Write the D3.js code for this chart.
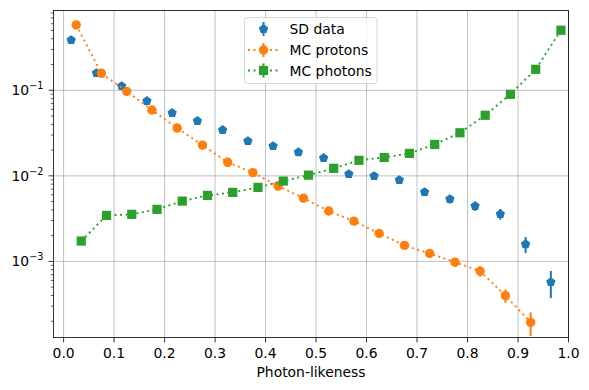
<!DOCTYPE html>
<html>
<head>
<meta charset="utf-8">
<script src="https://cdn.jsdelivr.net/npm/d3@7"></script>
<style>
  html, body { margin: 0; padding: 0; background: #fff; }
  svg { display: block; }
  text { font-family: "DejaVu Sans", sans-serif; fill: #000; }
</style>
</head>
<body>
<svg id="chart" width="589" height="390"></svg>
<script>
// ---------------- data ----------------
const sdX = [0.015,0.065,0.115,0.165,0.215,0.265,0.315,0.365,0.415,0.465,0.515,0.565,0.615,0.665,0.715,0.765,0.815,0.865,0.915,0.965];
const sdY = [0.387,0.159,0.112,0.075,0.0543,0.0438,0.0344,0.0255,0.0223,0.0189,0.0162,0.0105,0.00995,0.00893,0.00647,0.00536,0.00444,0.00358,0.00159,0.000573];
const sdErr = [0.00526,0.00337,0.00283,0.00231,0.00197,0.00177,0.00157,0.00135,0.00126,0.00116,0.00108,0.00087,0.00084,0.0008,0.00068,0.00062,0.00056,0.00051,0.00034,0.0002];

const prX = [0.025,0.075,0.125,0.175,0.225,0.275,0.325,0.375,0.425,0.475,0.525,0.575,0.625,0.675,0.725,0.775,0.825,0.875,0.925];
const prY = [0.581,0.158,0.0973,0.0589,0.0362,0.0229,0.0144,0.0109,0.0076,0.0055,0.00388,0.00296,0.00212,0.00154,0.00124,0.00098,0.00077,0.000398,0.000194];
const prErr = [0.003,0.0015,0.0012,0.0009,0.0007,0.0006,0.0005,0.0004,0.00034,0.00029,0.00024,0.00021,0.00018,0.00015,0.00014,0.00012,0.00011,0.00007,0.00006];

const phX = [0.035,0.085,0.135,0.185,0.235,0.285,0.335,0.385,0.435,0.485,0.535,0.585,0.635,0.685,0.735,0.785,0.835,0.885,0.935,0.985];
const phY = [0.00173,0.00345,0.00355,0.00406,0.00507,0.00591,0.00641,0.00733,0.00869,0.0102,0.01225,0.0152,0.0164,0.0183,0.0233,0.0319,0.0511,0.0898,0.176,0.504];
const phErr = [0.0001,0.00015,0.00015,0.00016,0.00018,0.0002,0.0002,0.00022,0.00024,0.00026,0.00028,0.00032,0.00033,0.00035,0.0004,0.00046,0.0006,0.0008,0.0011,0.0019];

const xTicks = [0,0.1,0.2,0.3,0.4,0.5,0.6,0.7,0.8,0.9,1.0];
const yMajor = [1e-3,1e-2,1e-1];
const yMajorExp = ["−3","−2","−1"];
const seriesNames = ["SD data","MC protons","MC photons"];
const colors = ["#1f77b4","#ff7f0e","#2ca02c"];
const xLabel = "Photon-likeness";

// ---------------- layout ----------------
const L = 53.5, R = 568.5, T = 10.5, B = 337.5;
const svg = d3.select("#chart");
const x = d3.scaleLinear().domain([-0.02, 1.0]).range([L, R]);
const y = d3.scaleLog().domain([1.29e-4, 0.857]).range([B, T]);

// grid
const grid = svg.append("g").attr("stroke", "#b0b0b0").attr("stroke-width", 0.8);
xTicks.forEach(t => grid.append("line").attr("x1", x(t)).attr("x2", x(t)).attr("y1", T).attr("y2", B));
yMajor.forEach(t => grid.append("line").attr("x1", L).attr("x2", R).attr("y1", y(t)).attr("y2", y(t)));

// data
const plot = svg.append("g");
const series = [
  {xs: sdX, ys: sdY, es: sdErr, c: colors[0], line: false, m: "pent"},
  {xs: prX, ys: prY, es: prErr, c: colors[1], line: true, m: "circle"},
  {xs: phX, ys: phY, es: phErr, c: colors[2], line: true, m: "square"}
];
function marker(g, type, cx, cy, c) {
  if (type === "circle") {
    g.append("circle").attr("cx", cx).attr("cy", cy).attr("r", 4.7).attr("fill", c);
  } else if (type === "square") {
    g.append("rect").attr("x", cx - 4.6).attr("y", cy - 4.6).attr("width", 9.2).attr("height", 9.2).attr("fill", c);
  } else {
    const r = 4.9;
    const pts = d3.range(5).map(i => {
      const a = -Math.PI / 2 + i * 2 * Math.PI / 5;
      return [cx + r * Math.cos(a), cy + r * Math.sin(a)];
    });
    g.append("polygon").attr("points", pts.map(p => p.join(",")).join(" ")).attr("fill", c);
  }
}
series.forEach(s => {
  const g = plot.append("g");
  if (s.line) {
    const line = d3.line().x((d, i) => x(s.xs[i])).y(d => y(d));
    g.append("path").attr("d", line(s.ys)).attr("fill", "none").attr("stroke", s.c)
      .attr("stroke-width", 1.9).attr("stroke-dasharray", "2,3.5");
  }
  s.ys.forEach((v, i) => {
    const lo = Math.max(v - s.es[i], 1e-6);
    g.append("line").attr("x1", x(s.xs[i])).attr("x2", x(s.xs[i]))
      .attr("y1", y(v + s.es[i])).attr("y2", Math.min(y(lo), B + 40))
      .attr("stroke", s.c).attr("stroke-width", 2);
  });
  s.ys.forEach((v, i) => marker(g, s.m, x(s.xs[i]), y(v), s.c));
});

// clip region outside axes (cover overflow)
svg.append("rect").attr("x", 0).attr("y", B + 0.5).attr("width", 589).attr("height", 60).attr("fill", "#fff");

// spines
svg.append("rect").attr("x", L).attr("y", T).attr("width", R - L).attr("height", B - T)
  .attr("fill", "none").attr("stroke", "#000").attr("stroke-width", 0.8);

// x ticks
const xt = svg.append("g");
xTicks.forEach(t => {
  xt.append("line").attr("x1", x(t)).attr("x2", x(t)).attr("y1", B).attr("y2", B + 4.9)
    .attr("stroke", "#000").attr("stroke-width", 0.8);
  xt.append("text").attr("x", x(t)).attr("y", B + 20).attr("text-anchor", "middle")
    .attr("font-size", "13.9px").text(d3.format(".1f")(t));
});
svg.append("text").attr("x", (L + R) / 2).attr("y", 377).attr("text-anchor", "middle")
  .attr("font-size", "13.9px").text(xLabel);

// y ticks
const yt = svg.append("g");
yMajor.forEach((t, i) => {
  yt.append("line").attr("x1", L - 4.9).attr("x2", L).attr("y1", y(t)).attr("y2", y(t))
    .attr("stroke", "#000").attr("stroke-width", 0.8);
  const tx = yt.append("text").attr("x", 11.5).attr("y", y(t) + 5).attr("font-size", "13.9px");
  tx.append("tspan").text("10");
  tx.append("tspan").attr("dy", -6).attr("font-size", "9.7px").text(yMajorExp[i]);
});
for (let d = -4; d <= 0; d++) {
  for (let k = 2; k <= 9; k++) {
    const v = k * Math.pow(10, d);
    if (v < y.domain()[0] || v > y.domain()[1]) continue;
    yt.append("line").attr("x1", L - 2.8).attr("x2", L).attr("y1", y(v)).attr("y2", y(v))
      .attr("stroke", "#000").attr("stroke-width", 0.6);
  }
}

// legend
const lg = svg.append("g");
lg.append("rect").attr("x", 244.5).attr("y", 17.5).attr("width", 132.5).attr("height", 66)
  .attr("rx", 3).attr("fill", "rgba(255,255,255,0.8)").attr("stroke", "#cccccc").attr("stroke-width", 0.8);
const legY = [29, 50, 70.5];
series.forEach((s, i) => {
  const cy = legY[i];
  if (s.line) {
    lg.append("line").attr("x1", 248).attr("x2", 279).attr("y1", cy).attr("y2", cy)
      .attr("stroke", s.c).attr("stroke-width", 1.9).attr("stroke-dasharray", "2,3.5");
  }
  lg.append("line").attr("x1", 263.5).attr("x2", 263.5).attr("y1", cy - 7).attr("y2", cy + 7)
    .attr("stroke", s.c).attr("stroke-width", 2);
  marker(lg, s.m, 263.5, cy, s.c);
  lg.append("text").attr("x", 289.5).attr("y", cy + 5).attr("font-size", "13.9px").text(seriesNames[i]);
});
</script>
</body>
</html>
